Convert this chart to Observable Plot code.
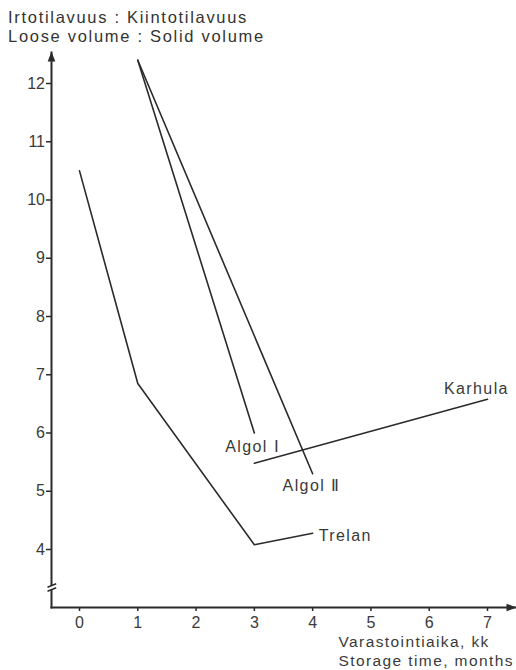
<!DOCTYPE html>
<html>
<head>
<meta charset="utf-8">
<script src="https://cdn.jsdelivr.net/npm/d3@7"></script>
<script src="https://cdn.jsdelivr.net/npm/@observablehq/plot@0.6"></script>
<style>
  html, body { margin: 0; padding: 0; background: #ffffff; }
  #title { font-family: "Liberation Sans", Arial, sans-serif; font-size: 16.5px; letter-spacing: 1.7px; line-height: 19px; padding: 8px 0 0 8px; height: 38px; color: #333; white-space: nowrap; }
  #chart svg { display: block; }
</style>
</head>
<body>
<div id="title">Irtotilavuus : Kiintotilavuus<br>Loose volume : Solid volume</div>
<div id="chart"></div>
<script>
// ---- data ----
const xTicks = [0, 1, 2, 3, 4, 5, 6, 7];
const yTicks = [4, 5, 6, 7, 8, 9, 10, 11, 12];

const trelanMonths = [0, 1, 3, 4];
const trelanRatio  = [10.5, 6.85, 4.08, 4.28];

const algol1Months = [1, 3];
const algol1Ratio  = [12.4, 6.0];

const algol2Months = [1, 4];
const algol2Ratio  = [12.4, 5.3];

const karhulaMonths = [3, 7];
const karhulaRatio  = [5.48, 6.58];

const seriesNames = ["Trelan", "Algol \u2160", "Algol \u2161", "Karhula"];
const labelX = [4.56, 2.97, 3.98, 6.81];
const labelY = [4.23, 5.77, 5.1, 6.75];

const xCaption = "Varastointiaika, kk\nStorage time, months";

// ---- build tables ----
const toRows = (name, xs, ys) => xs.map((x, i) => ({series: name, month: x, ratio: ys[i]}));
const lines = [
  ...toRows(seriesNames[0], trelanMonths, trelanRatio),
  ...toRows(seriesNames[1], algol1Months, algol1Ratio),
  ...toRows(seriesNames[2], algol2Months, algol2Ratio),
  ...toRows(seriesNames[3], karhulaMonths, karhulaRatio)
];
const labels = seriesNames.map((s, i) => ({text: s, month: labelX[i], ratio: labelY[i]}));

// custom symbols for axis decorations
const arrowUp = {draw(ctx) { ctx.moveTo(0, -1); ctx.lineTo(3.8, 9); ctx.lineTo(-3.8, 9); ctx.closePath(); }};
const arrowRight = {draw(ctx) { ctx.moveTo(1, 0); ctx.lineTo(-9, 3.8); ctx.lineTo(-9, -3.8); ctx.closePath(); }};
const breakGap = {draw(ctx) { ctx.moveTo(-5, -0.3); ctx.lineTo(5, -4); ctx.lineTo(5, 0.3); ctx.lineTo(-5, 4); ctx.closePath(); }};
const breakLines = {draw(ctx) { ctx.moveTo(-4, -0.3); ctx.lineTo(4.7, -3.7); ctx.moveTo(-4, 3.7); ctx.lineTo(4.7, 0.3); }};

const ink = "#2b2b2b";
const textInk = "#3a3a3a";

const chart = Plot.plot({
  width: 516,
  height: 624,
  marginLeft: 51,
  marginRight: 1,
  marginTop: 6,
  marginBottom: 63,
  style: {fontFamily: "'Liberation Sans', Arial, sans-serif", fontSize: "16px", color: textInk, background: "#ffffff"},
  x: {domain: [0, 7], range: [79, 487]},
  y: {domain: [4, 12], range: [503, 37]},
  marks: [
    Plot.frame({anchor: "left", stroke: ink, strokeWidth: 2}),
    Plot.frame({anchor: "bottom", stroke: ink, strokeWidth: 2}),
    Plot.dot([0], {frameAnchor: "top-left", symbol: arrowUp, fill: ink, stroke: "none", r: 4}),
    Plot.dot([0], {frameAnchor: "bottom-right", symbol: arrowRight, fill: ink, stroke: "none", r: 4}),
    Plot.dot([0], {frameAnchor: "bottom-left", dy: -20, symbol: breakGap, fill: "#ffffff", stroke: "none", r: 4}),
    Plot.dot([0], {frameAnchor: "bottom-left", dy: -20, symbol: breakLines, fill: "none", stroke: ink, strokeWidth: 1.6, r: 4}),
    Plot.axisY({ticks: yTicks, tickSize: 5, tickPadding: 1.5, fontSize: 16, label: null, stroke: ink, strokeWidth: 1.5, tickFormat: d => d}),
    Plot.axisX({ticks: xTicks, tickSize: 4, tickPadding: 5.5, fontSize: 16, label: null, stroke: ink, strokeWidth: 1.5, tickFormat: d => d}),
    Plot.line(lines, {x: "month", y: "ratio", z: "series", stroke: ink, strokeWidth: 1.6, strokeLinejoin: "miter"}),
    Plot.text(labels, {x: "month", y: "ratio", text: "text", textAnchor: "middle", fontSize: 16, fill: textInk, lineAnchor: "middle"}),
    Plot.text([xCaption], {frameAnchor: "bottom-left", text: d => d, textAnchor: "start", lineAnchor: "top", dx: 287, dy: 26, lineHeight: 1.22, fontSize: 15.5, fill: textInk})
  ]
});

document.getElementById("chart").appendChild(chart);
// loose tracking on the printed labels (not on the numerals)
d3.select(chart).selectAll('g[aria-label="text"] text').style("letter-spacing", "1.4px");
</script>
</body>
</html>
